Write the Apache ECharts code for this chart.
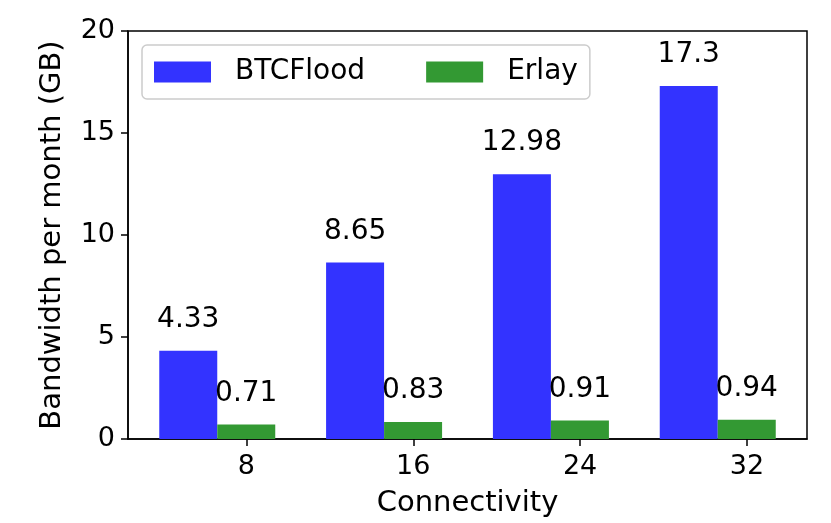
<!DOCTYPE html>
<html>
<head>
<meta charset="utf-8">
<script src="https://cdn.jsdelivr.net/npm/echarts@6/dist/echarts.min.js"></script>
<style>
  html, body { margin: 0; padding: 0; background: #fff; }
  #chart { width: 831px; height: 523px; }
</style>
</head>
<body>
<div id="chart"></div>
<script>
// chart data
const connectivity = ['8', '16', '24', '32'];
const btcFlood = [4.33, 8.65, 12.98, 17.3];
const erlay = [0.71, 0.83, 0.91, 0.94];

const FONT = 'DejaVu Sans';
const halfBar = 0.175; // ticks sit under the Erlay bar centre

const chart = echarts.init(document.getElementById('chart'));

const groupIdx = connectivity.map((c, i) => i);
const tickPos = groupIdx.map(i => i + halfBar);

const barLabel = {
    show: true,
    position: 'top',
    distance: 17,
    color: '#000',
    fontFamily: FONT,
    fontSize: 28
};

chart.setOption({
    animation: false,
    grid: {
        left: 128, right: 24, top: 31, bottom: 81.5,
        show: true, borderColor: '#000', borderWidth: 1.5,
        containLabel: false
    },
    legend: {
        left: 142, top: 45,
        padding: [13, 12, 13, 12],
        itemWidth: 57, itemHeight: 21,
        itemGap: 61,
        icon: 'rect',
        borderColor: '#cccccc', borderWidth: 1.5, borderRadius: 5,
        textStyle: { fontFamily: FONT, fontSize: 28, color: '#000', padding: [0, 0, 0, 19] },
        data: ['BTCFlood', 'Erlay']
    },
    xAxis: {
        type: 'value',
        min: -0.535, max: 3.535,
        name: 'Connectivity',
        nameLocation: 'middle',
        nameGap: 50,
        nameTextStyle: { fontFamily: FONT, fontSize: 29, color: '#000' },
        splitLine: { show: false },
        axisLine: { show: true, onZero: false, lineStyle: { color: '#000', width: 1.5 } },
        axisTick: { show: true, customValues: tickPos, length: 7, lineStyle: { color: '#000', width: 1.5 } },
        axisLabel: {
            customValues: tickPos,
            margin: 14,
            fontFamily: FONT, fontSize: 27, color: '#000',
            formatter: v => connectivity[Math.round(v - halfBar)]
        }
    },
    yAxis: {
        type: 'value',
        min: 0, max: 20, interval: 5,
        name: 'Bandwidth per month (GB)',
        nameLocation: 'middle',
        nameGap: 61,
        nameTextStyle: { fontFamily: FONT, fontSize: 29, color: '#000' },
        splitLine: { show: false },
        axisLine: { show: true, onZero: false, lineStyle: { color: '#000', width: 1.5 } },
        axisTick: { show: true, length: 7, lineStyle: { color: '#000', width: 1.5 } },
        axisLabel: { margin: 13, fontFamily: FONT, fontSize: 27, color: '#000' }
    },
    series: [
        {
            name: 'BTCFlood',
            type: 'bar',
            barWidth: 58,
            barGap: '0%',
            itemStyle: { color: '#3333ff' },
            label: barLabel,
            data: groupIdx.map(i => [i, btcFlood[i]])
        },
        {
            name: 'Erlay',
            type: 'bar',
            barWidth: 58,
            barGap: '0%',
            itemStyle: { color: '#339933' },
            label: barLabel,
            data: groupIdx.map(i => [i, erlay[i]])
        }
    ]
});
</script>
</body>
</html>
